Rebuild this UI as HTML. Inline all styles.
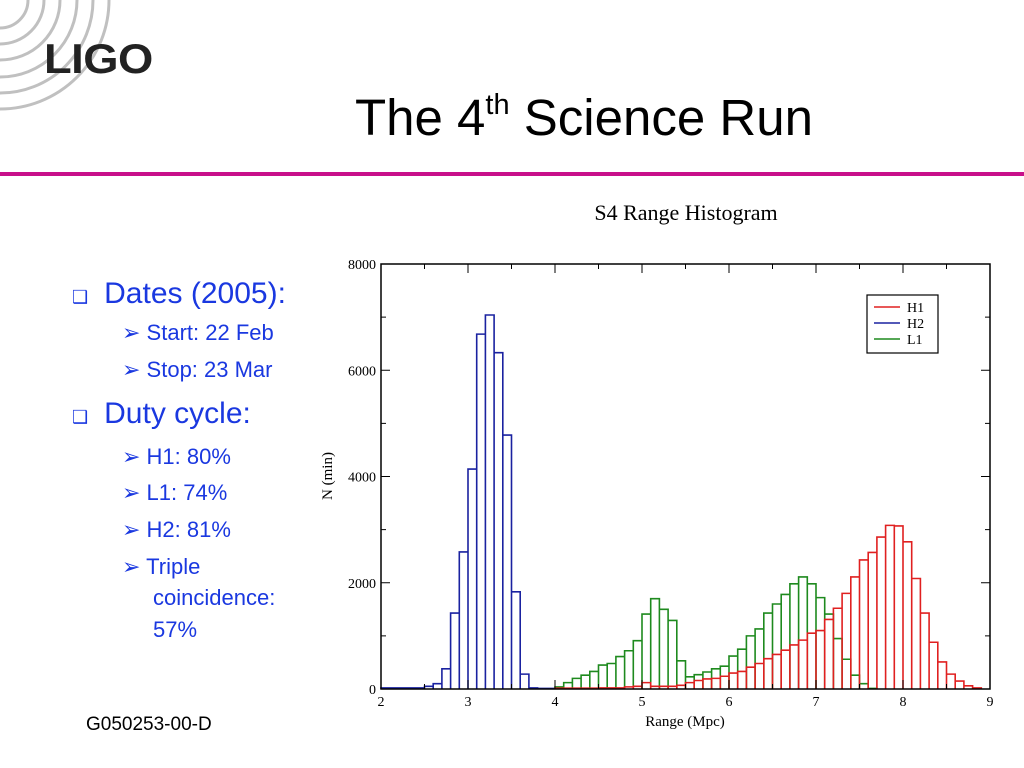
<!DOCTYPE html>
<html><head><meta charset="utf-8"><style>
body{margin:0;width:1024px;height:768px;background:#fff;overflow:hidden;position:relative;font-family:"Liberation Sans",sans-serif}
.a{position:absolute}
.b{color:#1a38e0}
.s{font-size:22px;margin-left:50px;position:absolute;left:0;white-space:nowrap}
.m{font-size:30px;position:absolute;left:0;white-space:nowrap}
</style></head><body>
<svg class="a" style="left:0;top:0" width="200" height="130">
<g fill="none" stroke="#c0c0c0" stroke-width="3">
<circle cx="0" cy="0" r="28"/><circle cx="0" cy="0" r="44"/><circle cx="0" cy="0" r="60"/><circle cx="0" cy="0" r="77"/><circle cx="0" cy="0" r="93"/><circle cx="0" cy="0" r="109"/></g></svg>
<div class="a" style="left:44px;top:35px;font-size:42px;font-weight:bold;color:#222;letter-spacing:-0.5px;transform:scaleX(1.08);transform-origin:left">LIGO</div>
<div class="a" style="left:355px;top:88px;font-size:51px;color:#000;white-space:nowrap">The 4<sup style="font-size:29px;vertical-align:21px">th</sup> Science Run</div>
<div class="a" style="left:0;top:172px;width:1024px;height:4px;background:#c8108a"></div>
<div class="a" style="left:72px;top:0;width:270px">
<div class="b m" style="top:277px"><span style="font-size:18px;margin-right:16px">❑</span>Dates (2005):</div>
<div class="b s" style="top:320px">➢ Start: 22 Feb</div>
<div class="b s" style="top:357px">➢ Stop: 23 Mar</div>
<div class="b m" style="top:397px"><span style="font-size:18px;margin-right:16px">❑</span>Duty cycle:</div>
<div class="b s" style="top:444px">➢ H1: 80%</div>
<div class="b s" style="top:480px">➢ L1: 74%</div>
<div class="b s" style="top:517px">➢ H2: 81%</div>
<div class="b s" style="top:554px">➢ Triple</div>
<div class="b s" style="top:585px;margin-left:81px">coincidence:</div>
<div class="b s" style="top:617px;margin-left:81px">57%</div>
</div>
<div class="a" style="left:86px;top:714px;font-size:19px;color:#000">G050253-00-D</div>
<svg id="ch" class="a" style="left:0;top:0" width="1024" height="768"></svg>
<script>
const h2Start=2.0;
const h2Vals=[20,20,20,20,20,50,100,380,1430,2580,4140,6680,7040,6330,4780,1830,280,20,10,10];
const l1Start=4.0;
const l1Vals=[40,120,200,260,330,450,480,610,720,910,1410,1700,1500,1290,530,230,270,320,380,430,620,750,1000,1130,1430,1600,1780,1980,2110,1980,1720,1410,950,560,260,100,10];
const h1Start=4.0;
const h1Vals=[15,15,15,15,15,20,20,20,40,50,120,50,50,50,70,120,160,190,200,240,300,330,410,480,570,650,730,830,920,1050,1100,1310,1520,1800,2110,2430,2570,2860,3080,3070,2770,2080,1430,880,510,280,150,60,20];
const xTicks=[2,3,4,5,6,7,8,9];
const yTicks=[0,2000,4000,6000,8000];
const binW=0.1;
const X0=381,X1=990,Y0=689,Y1=264;
const xs=v=>X0+(v-2)/(9-2)*(X1-X0);
const ys=v=>Y0-v/8000*(Y0-Y1);
const svg=document.getElementById('ch');
const NS='http://www.w3.org/2000/svg';
function mk(t,a){const e=document.createElementNS(NS,t);for(const k in a)e.setAttribute(k,a[k]);svg.appendChild(e);return e;}
let t=mk('text',{x:686,y:220,'font-size':22,'text-anchor':'middle','font-family':'Liberation Serif, serif'});t.textContent='S4 Range Histogram';


function hist(start,vals,col,name){
  let d='';
  vals.forEach((v,i)=>{const a=xs(start+i*binW),b=xs(start+(i+1)*binW),y=ys(v);
    d+=`M${a},${Y0}V${y}H${b}V${Y0}`;});
  const p=mk('path',{d:d,fill:'none',stroke:col,'stroke-width':1.6});
  
  
}
hist(h2Start,h2Vals,'#1a22a0','series-h2');
hist(l1Start,l1Vals,'#1e8a1e','series-l1');
hist(h1Start,h1Vals,'#e02020','series-h1');
const f=mk('rect',{x:X0,y:Y1,width:X1-X0,height:Y0-Y1,fill:'none',stroke:'#000','stroke-width':1.5});


for(let v=2;v<=9;v+=0.5){const x=xs(v),L=Number.isInteger(v)?9:5;
  mk('line',{x1:x,x2:x,y1:Y0,y2:Y0-L,stroke:'#000'});mk('line',{x1:x,x2:x,y1:Y1,y2:Y1+L,stroke:'#000'});}
xTicks.forEach(v=>{const e=mk('text',{x:xs(v),y:Y0+17,'font-size':14,'text-anchor':'middle','font-family':'Liberation Serif, serif'});e.textContent=v;
  
  });
for(let v=0;v<=8000;v+=1000){const y=ys(v),L=v%2000?5:9;
  mk('line',{x1:X0,x2:X0+L,y1:y,y2:y,stroke:'#000'});mk('line',{x1:X1,x2:X1-L,y1:y,y2:y,stroke:'#000'});}
yTicks.forEach(v=>{const e=mk('text',{x:X0-5,y:ys(v)+5,'font-size':14,'text-anchor':'end','font-family':'Liberation Serif, serif'});e.textContent=v;
  
  });
t=mk('text',{x:685,y:726,'font-size':15,'text-anchor':'middle','font-family':'Liberation Serif, serif'});t.textContent='Range (Mpc)';


t=mk('text',{x:0,y:0,'font-size':15,'text-anchor':'middle','font-family':'Liberation Serif, serif',transform:'translate(332,476) rotate(-90)'});t.textContent='N (min)';


const lg=mk('rect',{x:867,y:295,width:71,height:58,fill:'#fff',stroke:'#000','stroke-width':1.2});


[['H1','#e02020'],['H2','#1a22a0'],['L1','#1e8a1e']].forEach((s,i)=>{const y=307+i*16;
  const l=mk('line',{x1:874,x2:900,y1:y,y2:y,stroke:s[1],'stroke-width':1.5});
  
  
  const e=mk('text',{x:907,y:y+5,'font-size':14,'font-family':'Liberation Serif, serif'});e.textContent=s[0];
  
  });
</script>
</body></html>
